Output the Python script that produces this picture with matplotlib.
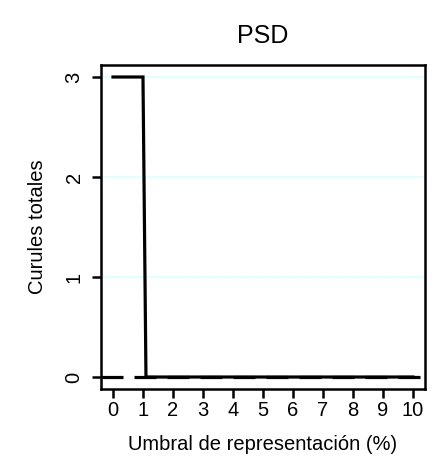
import matplotlib.pyplot as plt

plt.rcParams["font.family"] = ["Liberation Sans", "DejaVu Sans"]

# Seats kept as the representation threshold rises (0.1 % steps)
thresholds = [0.0, 1.0, 1.1, 10.0]
seats = [3, 3, 0, 0]
xticks = [0, 1, 2, 3, 4, 5, 6, 7, 8, 9, 10]
yticks = [0, 1, 2, 3]

fig = plt.figure(figsize=(4.34, 4.70), dpi=100)
fig.patch.set_facecolor("white")
ax = fig.add_axes([0.2327, 0.1723, 0.979 - 0.2327, 0.8617 - 0.1723])

for yv in yticks[1:]:
    ax.axhline(yv, color="#e0ffff", linewidth=1.6, zorder=1)

lw = 2.3
ax.axhline(0, color="black", linewidth=lw,
           linestyle=(0, (22 * 0.72 / lw, 11 * 0.72 / lw)), zorder=2)
ax.plot(thresholds, seats, color="black", linewidth=lw, zorder=3,
        solid_joinstyle="miter")

ax.set_xlim(-0.4, 10.4)
ax.set_ylim(-0.12, 3.12)
ax.set_xticks(xticks)
ax.set_yticks(yticks)
ax.tick_params(axis="both", direction="out", length=6.5, width=1.8,
               labelsize=14.5, color="black")
ax.tick_params(axis="x", pad=2)
ax.tick_params(axis="y", pad=6)
for lab in ax.get_yticklabels():
    lab.set_rotation(90)
    lab.set_va("center")
for s in ax.spines.values():
    s.set_linewidth(1.8)
    s.set_color("black")

ax.set_title("PSD", fontsize=18, pad=16)
ax.set_xlabel("Umbral de representación (%)", fontsize=14.5, labelpad=11)
ax.set_ylabel("Curules totales", fontsize=14.5, labelpad=13)

plt.savefig("out.png", dpi=100, facecolor="white")
plt.close()
